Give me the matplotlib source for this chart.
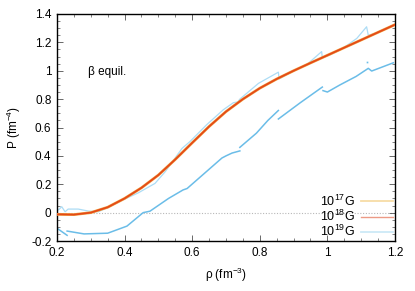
import numpy as np
import matplotlib
matplotlib.use("Agg")
import matplotlib.pyplot as plt
from matplotlib.ticker import MultipleLocator, FuncFormatter
from matplotlib.lines import Line2D

plt.rcParams['font.family'] = ['Liberation Sans', 'DejaVu Sans']
plt.rcParams['mathtext.fontset'] = 'custom'
plt.rcParams['mathtext.rm'] = 'Liberation Sans'
plt.rcParams['mathtext.it'] = 'Liberation Sans'

nan = np.nan

# 10^17 G and 10^18 G (nearly identical smooth curves)
rho_17 = [0.200, 0.250, 0.300, 0.350, 0.400, 0.450, 0.500, 0.550, 0.600, 0.650,
          0.700, 0.750, 0.800, 0.850, 0.900, 0.950, 1.000, 1.050, 1.100, 1.150, 1.200]
P_17 = [-0.012, -0.014, 0.000, 0.038, 0.100, 0.175, 0.265, 0.375, 0.492, 0.607,
        0.712, 0.800, 0.877, 0.942, 1.000, 1.055, 1.109, 1.163, 1.217, 1.271, 1.325]
rho_18 = rho_17
P_18 = P_17

# 10^19 G, upper (pale) branch
rho_19a = [0.195, 0.205, 0.214, 0.224, 0.233, 0.263, 0.293, 0.322, 0.350, 0.391,
           0.441, 0.490, 0.520, 0.539, 0.570, 0.593, 0.643, 0.692, 0.722, 0.735,
           0.741, 0.796, 0.855, 0.857, 0.889, 0.919, 0.940, 0.983, 0.985, 1.008,
           1.047, 1.087, 1.116, 1.121, 1.140, 1.200]
P_19a = [0.018, 0.020, 0.042, 0.006, 0.025, 0.025, 0.011, 0.006, 0.035, 0.085,
         0.140, 0.206, 0.288, 0.350, 0.453, 0.500, 0.620, 0.725, 0.775, 0.780,
         0.800, 0.911, 0.990, 0.942, 0.985, 1.020, 1.045, 1.135, 1.090, 1.112,
         1.160, 1.228, 1.310, 1.250, 1.262, 1.325]

# 10^19 G, lower branch
rho_19b = [0.200, 0.230, nan, 0.230, 0.280, 0.350, 0.407, 0.455, 0.475, 0.530,
           0.573, 0.585, 0.688, 0.700, 0.718, 0.741, nan, 0.741, 0.790, 0.824,
           0.855, nan, 0.855, 0.920, 0.985, nan, 0.987, 1.000, 1.037, 1.085,
           1.121, 1.131, 1.195]
P_19b = [-0.110, -0.160, nan, -0.130, -0.150, -0.145, -0.095, 0.000, 0.010, 0.100,
         0.160, 0.170, 0.385, 0.400, 0.420, 0.435, nan, 0.460, 0.560, 0.650,
         0.720, nan, 0.660, 0.775, 0.885, nan, 0.860, 0.850, 0.900, 0.960,
         1.017, 0.998, 1.056]
rho_19dot = [1.116]
P_19dot = [1.063]

labels = [r'10$^{17}$G', r'10$^{18}$G', r'10$^{19}$G']

fig = plt.figure(figsize=(4.15, 2.91), dpi=100)
ax = fig.add_axes([0.1373, 0.1718, 0.8145, 0.7801])

ax.axhline(0, color='#b8b8b8', lw=0.8, ls=(0, (1, 1.5)), zorder=1)

ax.plot(rho_19b, P_19b, color='#6bbde8', lw=1.1, zorder=2)
ax.plot(rho_19dot, P_19dot, ls='none', marker='s', ms=1.2, color='#6bbde8', mew=0)
ax.plot(rho_19a, P_19a, color='#acdcf5', lw=0.9, zorder=2)
ax.plot(rho_17, P_17, color='#f2a848', lw=2.0, zorder=3)
ax.plot(rho_18, P_18, color='#e44a18', lw=1.3, zorder=4)

ax.set_xlim(0.2, 1.2)
ax.set_ylim(-0.2, 1.4)
ax.xaxis.set_major_locator(MultipleLocator(0.2))
ax.xaxis.set_minor_locator(MultipleLocator(0.05))
ax.yaxis.set_major_locator(MultipleLocator(0.2))
ax.yaxis.set_minor_locator(MultipleLocator(0.05))
fmt = FuncFormatter(lambda v, p: '%g' % round(v, 2))
ax.xaxis.set_major_formatter(fmt)
ax.yaxis.set_major_formatter(fmt)
ax.tick_params(which='both', direction='in', top=True, right=True, labelsize=8.5, color='#505050')
ax.tick_params(which='major', length=4, width=0.6, pad=4)
ax.tick_params(which='minor', length=2, width=0.5)
for s in ax.spines.values():
    s.set_linewidth(1.0)

ax.set_xlabel(r'ρ (fm$^{-3}$)', fontsize=8.5, labelpad=5)
ax.set_ylabel(r'P (fm$^{-4}$)', fontsize=8.5, labelpad=6)
ax.text(0.292, 0.99, 'β equil.', fontsize=8.5, va='center', ha='left')

handles = [Line2D([], [], color='#f7dca6', lw=1.3),
           Line2D([], [], color='#ec9a85', lw=1.0),
           Line2D([], [], color='#cde9f7', lw=1.3)]
leg = ax.legend(handles, labels,
                loc='lower right', frameon=False, fontsize=9, markerfirst=False,
                handlelength=2.6, handletextpad=0.5, labelspacing=0.0,
                borderaxespad=0.0, borderpad=0.15)
for t in leg.get_texts():
    t.set_ha('right')

fig.savefig('out.png', dpi=100)
